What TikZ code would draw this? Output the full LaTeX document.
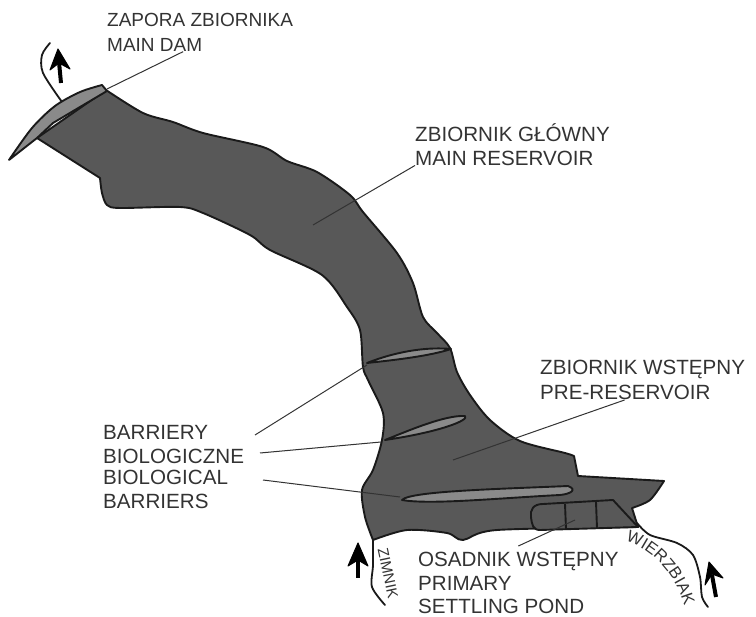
\documentclass[tikz,border=0pt]{standalone}
\usepackage{fontspec}
\setmainfont{Liberation Sans}
\usepackage{xcolor}
\usetikzlibrary{positioning, decorations.text}
\definecolor{water}{HTML}{585858}
\definecolor{lightwater}{HTML}{8a8a8a}
\definecolor{ink}{HTML}{1a1a1a}
\definecolor{lbl}{HTML}{333333}
\newcommand{\lblfont}{\fontsize{20.6}{24}\selectfont}
\tikzset{
  outline/.style={draw=ink, line width=1.9pt, line join=round},
  barrier/.style={outline, fill=lightwater},
  stream/.style={draw=ink, line width=1.8pt, line cap=round},
  flow/.style={draw=black, line width=4pt},
  flowhead/.style={fill=black, draw=black, line join=round, line width=1pt},
  leader/.style={draw=lbl, line width=1pt},
  lblnode/.style={font=\lblfont, text=lbl, align=left, inner sep=0pt, anchor=north west}
}
\begin{document}
\begin{tikzpicture}[x=1pt, y=-1pt]
\useasboundingbox (0,0) rectangle (756,617);

% streams
\draw[stream] plot[smooth] coordinates {(50,43) (42,55) (43,73) (62,102)};
\draw[stream] plot[smooth] coordinates {(373,540) (373,565) (372,587) (385,605)};
\draw[stream] plot[smooth] coordinates {(637,523) (650,535) (677,543) (693,555) (700,577) (702,597) (708,607)};

% reservoir
\draw[outline, fill=water]
  plot[smooth, tension=0.5] coordinates {(106,90) (143,113) (173,122) (203,133) (263,147) (287,161) (317,172) (350,195)
    (363,212) (397,253) (413,283) (423,317) (437,333) (450,348) (457,372) (470,395) (490,420) (520,441) (565,453) (574,456)}
  -- (578,476) -- (664,481)
  -- plot[smooth, tension=0.5] coordinates {(664,481) (650,500) (632,508)}
  -- (638,527)
  -- plot[smooth, tension=0.5] coordinates {(638,527) (497,530) (463,540) (447,533) (407,530) (373,540)}
  -- plot[smooth, tension=0.5] coordinates {(373,540) (365,517) (362,490) (373,470) (382,440) (383,413) (368,380) (363,367)
    (360,330) (347,307) (322,275) (270,250) (250,235) (203,213) (180,207) (120,208) (107,205) (102,193) (100,178)}
  -- (37,138) -- cycle;

% dam
\draw[barrier] (9,160) -- plot[smooth, tension=0.5] coordinates {(9,160) (32,128) (55,106) (80,92) (102,85)}
  -- (107,91) -- (53,123) -- (37,138) -- cycle;

% barriers
\draw[barrier] (367,363) .. controls (400,350) and (430,347) .. (451,349)
  .. controls (430,356) and (395,360) .. (367,363) -- cycle;
\draw[barrier] (385,440) .. controls (410,430) and (445,415) .. (465,416)
  .. controls (470,420) and (440,432) .. (385,440) -- cycle;
\draw[barrier] (402,500) .. controls (410,491) and (500,489) .. (568,486)
  .. controls (578,490) and (570,494) .. (560,495) .. controls (500,498) and (430,505) .. (402,500) -- cycle;

% settling pond
\draw[outline, fill=water] (613,500) -- (543,504) .. controls (533,504) and (530,510) .. (531,517)
  .. controls (532,525) and (533,530) .. (540,530) -- (638,527) -- cycle;
\coordinate (pondA) at (565,504);
\coordinate (pondB) at (566,529);
\coordinate (pondC) at (596,502);
\coordinate (pondD) at (597,528);
\draw[outline] (pondA) -- (pondB);
\draw[outline] (pondC) -- (pondD);

% flow arrows
\draw[flow] (61,83) -- (59,62);
\draw[flowhead] (58,49) -- (70,69) -- (59,63) -- (50,70) -- cycle;
\draw[flow] (358,578) -- (358,556);
\draw[flowhead] (358,543) -- (368,566) -- (358,560) -- (348,566) -- cycle;
\draw[flow] (716,597) -- (712,575);
\draw[flowhead] (709,562) -- (723,578) -- (712,574) -- (705,585) -- cycle;

% labels
\node[lblnode, font=\fontsize{19}{25}\selectfont] (lblDam) at (107,13) {ZAPORA ZBIORNIKA\\MAIN DAM};
\node[lblnode] (lblMain) at (415,123) {ZBIORNIK GŁÓWNY\\MAIN RESERVOIR};
\node[lblnode, font=\fontsize{20.6}{25}\selectfont] (lblPre) at (540,360) {ZBIORNIK WSTĘPNY\\PRE-RESERVOIR};
\node[lblnode] (lblBarPl) at (103,425) {BARRIERY\\BIOLOGICZNE};
\node[lblnode] (lblBarEn) at (103,470) {BIOLOGICAL\\BARRIERS};
\node[lblnode, font=\fontsize{20.6}{23.5}\selectfont] (lblPond) at (418,552) {OSADNIK WSTĘPNY\\PRIMARY\\SETTLING POND};
\node[font=\fontsize{15}{17}\selectfont, text=lbl, rotate=-78, inner sep=0pt] (lblZimnik) at (388,573) {ZIMNIK};
\path[postaction={decorate}, decoration={text along path, text align=center,
    text={|\fontsize{16.5}{18}\selectfont\color{lbl}|WIERZBIAK}}]
  (619,540) .. controls (650,545) and (678,575) .. (686,612);

% leaders
\coordinate (ptDam) at (107,89);
\coordinate (ptMain) at (313,225);
\coordinate (ptPre) at (453,460);
\coordinate (ptPond) at (575,520);
\coordinate (ptBarA) at (367,365);
\coordinate (ptBarB) at (381,442);
\coordinate (ptBarC) at (400,497);
\coordinate (startBarA) at (255,435);
\coordinate (startBarB) at (260,453);
\coordinate (startBarC) at (263,480);
\draw[leader] ([xshift=-17pt]lblDam.south) -- (ptDam);
\draw[leader] (lblMain.south west) -- (ptMain);
\draw[leader] ([xshift=-18pt]lblPre.south) -- (ptPre);
\draw[leader] ([yshift=6pt]lblPond.north) -- (ptPond);
\draw[leader] (startBarA) -- (ptBarA);
\draw[leader] (startBarB) -- (ptBarB);
\draw[leader] (startBarC) -- (ptBarC);
\end{tikzpicture}
\end{document}
